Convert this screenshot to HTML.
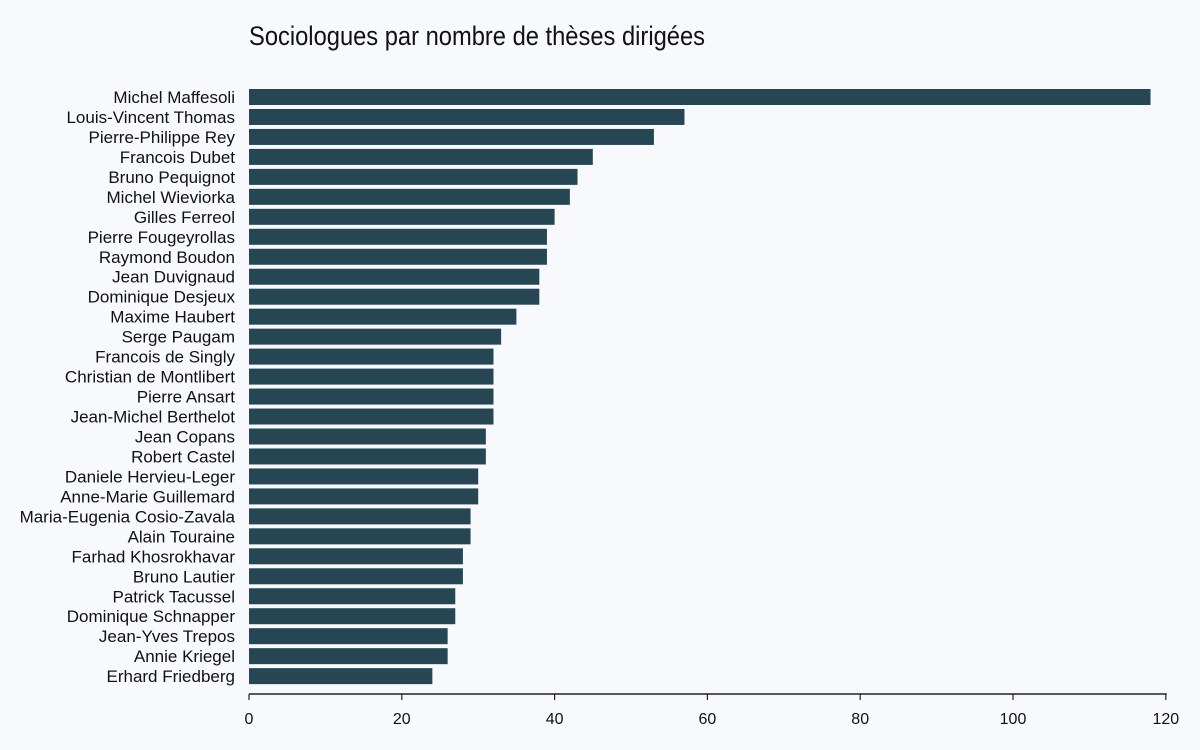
<!DOCTYPE html>
<html><head><meta charset="utf-8"><style>
html,body{margin:0;padding:0;background:#f8f9fd;}
svg{display:block;font-family:"Liberation Sans Narrow","Liberation Sans",sans-serif;}
</style></head><body>
<svg id="chart" width="1200" height="750">
<rect width="1200" height="750" fill="#f8f9fd"></rect>
<text x="249" y="45" font-size="27" fill="#111" textLength="456" lengthAdjust="spacingAndGlyphs">Sociologues par nombre de thèses dirigées</text>
<g id="bars"></g><g id="axis"></g>
</svg>
<script>
const names=["Michel Maffesoli","Louis-Vincent Thomas","Pierre-Philippe Rey","Francois Dubet","Bruno Pequignot","Michel Wieviorka","Gilles Ferreol","Pierre Fougeyrollas","Raymond Boudon","Jean Duvignaud","Dominique Desjeux","Maxime Haubert","Serge Paugam","Francois de Singly","Christian de Montlibert","Pierre Ansart","Jean-Michel Berthelot","Jean Copans","Robert Castel","Daniele Hervieu-Leger","Anne-Marie Guillemard","Maria-Eugenia Cosio-Zavala","Alain Touraine","Farhad Khosrokhavar","Bruno Lautier","Patrick Tacussel","Dominique Schnapper","Jean-Yves Trepos","Annie Kriegel","Erhard Friedberg"];
const values=[118,57,53,45,43,42,40,39,39,38,38,35,33,32,32,32,32,31,31,30,30,29,29,28,28,27,27,26,26,24];
const ticks=[0,20,40,60,80,100,120];
const NS="http://www.w3.org/2000/svg";
const x0=249,pxPer=7.64,yTop=97,step=19.97,bh=16;
const xs=v=>x0+v*pxPer, ys=i=>yTop+i*step;
const bars=document.getElementById('bars'),axis=document.getElementById('axis');
function mk(tag,attrs,parent,txt){const e=document.createElementNS(NS,tag);for(const k in attrs)e.setAttribute(k,attrs[k]);if(txt!==undefined)e.textContent=txt;parent.appendChild(e);return e;}
names.forEach((n,i)=>{
  const r=mk('rect',{x:x0,y:ys(i)-bh/2,width:xs(values[i])-x0,height:bh,fill:'#264653'},bars);
  
  
  const t=mk('text',{x:235,y:ys(i)+6,'text-anchor':'end','font-size':17,fill:'#111'},bars,n);
  
  
});
const al=mk('line',{x1:x0,x2:xs(120)+1,y1:694,y2:694,stroke:'#222','stroke-width':1.5},axis);


ticks.forEach(v=>{
  const l=mk('line',{x1:xs(v),x2:xs(v),y1:694,y2:700,stroke:'#222','stroke-width':1.2},axis);
  
  
  const t=mk('text',{x:xs(v),y:724,'text-anchor':'middle','font-size':16,fill:'#111'},axis,v);
  
  
});
</script>
</body></html>
